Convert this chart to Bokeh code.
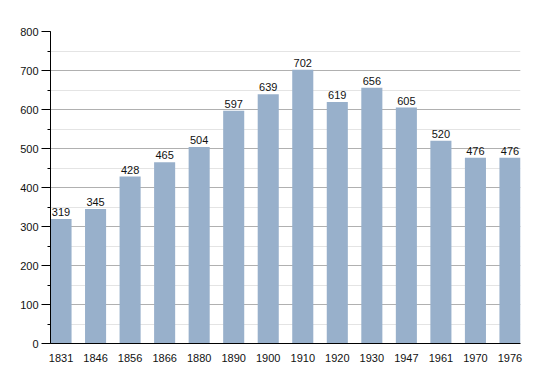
from bokeh.plotting import figure
from bokeh.models import ColumnDataSource, Range1d, FixedTicker, SingleIntervalTicker, LabelSet
from bokeh.core.properties import value
from bokeh.embed import file_html
from bokeh.resources import INLINE

years = ["1831", "1846", "1856", "1866", "1880", "1890", "1900", "1910",
         "1920", "1930", "1947", "1961", "1970", "1976"]
population = [319, 345, 428, 465, 504, 597, 639, 702, 619, 656, 605, 520, 476, 476]

xs = list(range(len(years)))
src = ColumnDataSource(dict(x=xs, y=population, lbl=[str(v) for v in population]))

p = figure(width=540, height=368, output_backend="svg", toolbar_location=None,
           x_range=Range1d(-0.305, len(years) - 1 + 0.305), y_range=Range1d(0, 800),
           min_border_left=50, min_border_right=20, min_border_top=31, min_border_bottom=25)
p.outline_line_color = None

p.vbar(x="x", top="y", width=0.61, source=src, fill_color="#98b0cb", line_color=None)

labels = LabelSet(x="x", y="y", text="lbl", source=src, text_align="center",
                  text_baseline="bottom", y_offset=3, text_font=value("Liberation Sans"),
                  text_font_size=value("11px"), text_color="#111111")
p.add_layout(labels)

p.xaxis.ticker = FixedTicker(ticks=xs)
p.xaxis.major_label_overrides = {i: y for i, y in enumerate(years)}
p.xaxis.major_tick_line_color = None
p.xaxis.minor_tick_line_color = None
p.xaxis.axis_line_color = "black"
p.xaxis.major_label_standoff = 4
p.xaxis.major_label_text_font = "Liberation Sans"
p.xaxis.major_label_text_font_size = "11px"
p.xaxis.major_label_text_color = "#111111"

p.yaxis.ticker = SingleIntervalTicker(interval=100, num_minor_ticks=2)
p.yaxis.axis_line_color = "black"
p.yaxis.major_tick_out = 9
p.yaxis.major_tick_in = 0
p.yaxis.minor_tick_out = 3
p.yaxis.minor_tick_in = 0
p.yaxis.major_label_standoff = 3
p.yaxis.major_label_text_font = "Liberation Sans"
p.yaxis.major_label_text_font_size = "11px"
p.yaxis.major_label_text_color = "#111111"

p.xgrid.grid_line_color = None
p.ygrid.grid_line_color = "#b0b0b0"
p.ygrid.minor_grid_line_color = "#e4e4e4"

open("out.html", "w").write(file_html(p, INLINE))
